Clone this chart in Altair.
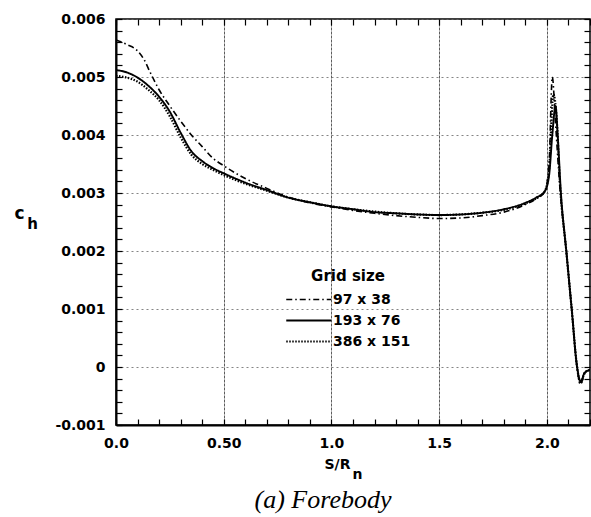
import altair as alt
import pandas as pd

# ---- data ----
series_names = ["97 x 38", "193 x 76", "386 x 151"]

s_9738 = [0.00, 0.05, 0.10, 0.13, 0.16, 0.20, 0.25, 0.30, 0.35, 0.40, 0.45, 0.50, 0.60, 0.70,
          0.80, 0.90, 1.00, 1.10, 1.20, 1.30, 1.40, 1.50, 1.60, 1.70, 1.80, 1.90, 1.95, 1.99,
          2.01, 2.025, 2.04, 2.06, 2.09, 2.115, 2.14, 2.155, 2.175, 2.20]
ch_9738 = [0.00564, 0.00556, 0.00545, 0.00530, 0.00507, 0.00478, 0.00450, 0.00424, 0.00400,
           0.00380, 0.00360, 0.00347, 0.00325, 0.00308, 0.00293, 0.00283, 0.00276, 0.00270,
           0.00265, 0.00261, 0.00258, 0.00256, 0.00257, 0.00261, 0.00267, 0.00280, 0.00290,
           0.00302, 0.00350, 0.00500, 0.00420, 0.00310, 0.00200, 0.00100, 0.00000, -0.00030,
           -0.00012, -0.00005]

s_19376 = [0.00, 0.05, 0.10, 0.15, 0.20, 0.25, 0.30, 0.35, 0.40, 0.45, 0.50, 0.60, 0.70, 0.80,
           0.90, 1.00, 1.10, 1.20, 1.30, 1.40, 1.50, 1.60, 1.70, 1.80, 1.90, 1.95, 1.99, 2.01,
           2.025, 2.04, 2.05, 2.065, 2.09, 2.115, 2.14, 2.157, 2.175, 2.20]
ch_19376 = [0.00512, 0.00508, 0.00499, 0.00485, 0.00466, 0.00440, 0.00404, 0.00372, 0.00355,
            0.00343, 0.00334, 0.00318, 0.00305, 0.00292, 0.00284, 0.00277, 0.00272, 0.00267,
            0.00265, 0.00263, 0.00262, 0.00263, 0.00266, 0.00272, 0.00283, 0.00292, 0.00303,
            0.00330, 0.00400, 0.00450, 0.00400, 0.00300, 0.00200, 0.00100, 0.00000, -0.00025,
            -0.00010, -0.00005]

s_386151 = [0.00, 0.05, 0.10, 0.15, 0.20, 0.25, 0.30, 0.35, 0.40, 0.45, 0.50, 0.60, 0.70, 0.80,
            0.90, 1.00, 1.10, 1.20, 1.30, 1.40, 1.50, 1.60, 1.70, 1.80, 1.90, 1.95, 1.99, 2.01,
            2.03, 2.045, 2.06, 2.09, 2.115, 2.14, 2.156, 2.175, 2.20]
ch_386151 = [0.00502, 0.00499, 0.00492, 0.00478, 0.00460, 0.00432, 0.00396, 0.00366, 0.00350,
             0.00340, 0.00331, 0.00316, 0.00304, 0.00292, 0.00284, 0.00277, 0.00272, 0.00268,
             0.00265, 0.00263, 0.00262, 0.00263, 0.00266, 0.00271, 0.00282, 0.00291, 0.00303,
             0.00340, 0.00470, 0.00430, 0.00320, 0.00200, 0.00100, 0.00000, -0.00028,
             -0.00010, -0.00005]

x_major = [0.0, 0.5, 1.0, 1.5, 2.0]
y_major = [-0.001, 0.0, 0.001, 0.002, 0.003, 0.004, 0.005, 0.006]
x_minor = [round(i * 0.1, 1) for i in range(0, 23)]
y_minor = [round(-0.001 + i * 0.0002, 4) for i in range(0, 36)]

rows = []
for name, xs, ys in [(series_names[0], s_9738, ch_9738),
                     (series_names[1], s_19376, ch_19376),
                     (series_names[2], s_386151, ch_386151)]:
    for i, (a, b) in enumerate(zip(xs, ys)):
        rows.append({"s": a, "ch": b, "grid": name, "i": i})
df = pd.DataFrame(rows)

FONT = "DejaVu Sans"
xscale = alt.Scale(domain=[0, 2.2], nice=False, zero=False)
yscale = alt.Scale(domain=[-0.001, 0.006], nice=False, zero=False)

base = alt.Chart(df)

lines = base.mark_line(interpolate="monotone", color="black", clip=True).encode(
    x=alt.X("s:Q", scale=xscale, axis=alt.Axis(
        values=x_major, title="S/R", grid=True, gridColor="#333", gridDash=[3, 1],
        gridWidth=0.8, tickSize=0, domain=True, domainColor="black", domainWidth=2,
        labelExpr="datum.value == 0.5 ? '0.50' : format(datum.value, '.1f')",
        labelFont=FONT, labelFontWeight="bold", labelFontSize=14, labelColor="black",
        labelPadding=11, labelFlush=False,
        titleFont=FONT, titleFontWeight="bold", titleFontSize=14, titleColor="black",
        titleX=221, titleY=43, titleBaseline="alphabetic", titleAlign="center")),
    y=alt.Y("ch:Q", scale=yscale, axis=alt.Axis(
        values=y_major, title="c", grid=True, gridColor="#666", gridDash=[2, 3],
        gridWidth=0.8, tickSize=0, domain=True, domainColor="black", domainWidth=2,
        labelExpr="datum.value == 0 ? '0' : (datum.value < 0 ? '-' : '') + format(abs(datum.value), '.3f')",
        labelFont=FONT, labelFontWeight="bold", labelFontSize=14, labelColor="black",
        labelPadding=11, labelFlush=False,
        titleFont=FONT, titleFontWeight="bold", titleFontSize=17, titleColor="black",
        titleAngle=0, titleX=-97, titleY=199, titleBaseline="alphabetic", titleAlign="center")),
    strokeDash=alt.StrokeDash("grid:N", scale=alt.Scale(
        domain=series_names, range=[[6, 3, 1.5, 3], [1, 0], [1.5, 1.5]]),
        legend=alt.Legend(
            title="Grid size", orient="none", legendX=169, legendY=250,
            titleFont=FONT, titleFontWeight="bold", titleFontSize=15, titleColor="black",
            titleAnchor="middle", titlePadding=3,
            labelFont=FONT, labelFontWeight="bold", labelFontSize=14, labelColor="black",
            symbolType="M-1,0H3", symbolSize=506, symbolStrokeColor="black",
            symbolStrokeWidth=1.8, labelOffset=23, rowPadding=1, padding=0)),
    strokeWidth=alt.StrokeWidth("grid:N", scale=alt.Scale(
        domain=series_names, range=[1.6, 2.2, 2.0]), legend=None),
    detail="grid:N",
    order="i:Q",
)

# inward minor ticks on bottom/left, also carrying the subscripts
ticks_bl = base.mark_point(opacity=0).encode(
    x=alt.X("s:Q", scale=xscale, axis=alt.Axis(
        orient="bottom", values=x_minor, offset=-6, tickSize=6,
        tickColor="black", tickWidth=1.2, labels=False, domain=False, grid=False,
        title="n", titleFont=FONT, titleFontWeight="bold", titleFontSize=14,
        titleColor="black", titleX=241, titleY=59, titleBaseline="alphabetic",
        titleAlign="center")),
    y=alt.Y("ch:Q", scale=yscale, axis=alt.Axis(
        orient="left", values=y_minor, offset=-6, tickSize=6,
        tickColor="black", tickWidth=1.2, labels=False, domain=False, grid=False,
        title="h", titleFont=FONT, titleFontWeight="bold", titleFontSize=15,
        titleColor="black", titleAngle=0, titleX=-90, titleY=209,
        titleBaseline="alphabetic", titleAlign="center")),
)

# inward minor ticks on top/right
ticks_tr = base.mark_point(opacity=0).encode(
    x=alt.X("s:Q", scale=xscale, axis=alt.Axis(
        orient="top", values=x_minor, offset=-6, tickSize=6,
        tickColor="black", tickWidth=1.2, labels=False, domain=False, grid=False, title="")),
    y=alt.Y("ch:Q", scale=yscale, axis=alt.Axis(
        orient="right", values=y_minor, offset=-6, tickSize=6,
        tickColor="black", tickWidth=1.2, labels=False, domain=False, grid=False, title="")),
)

chart = alt.layer(lines, ticks_bl, ticks_tr).resolve_axis(
    x="independent", y="independent"
).properties(
    width=474, height=406,
    autosize=alt.AutoSizeParams(type="none"),
    padding={"left": 116, "top": 19, "right": 1, "bottom": 92},
    title=alt.TitleParams("(a) Forebody", orient="bottom", font="Liberation Serif",
                          fontStyle="italic", fontWeight="normal", fontSize=26,
                          color="black", anchor="middle", dx=-30, offset=6),
    background="white",
).configure_view(stroke="black", strokeWidth=1.5)

chart.save("out.html", embed_options={"renderer": "svg", "actions": False})
